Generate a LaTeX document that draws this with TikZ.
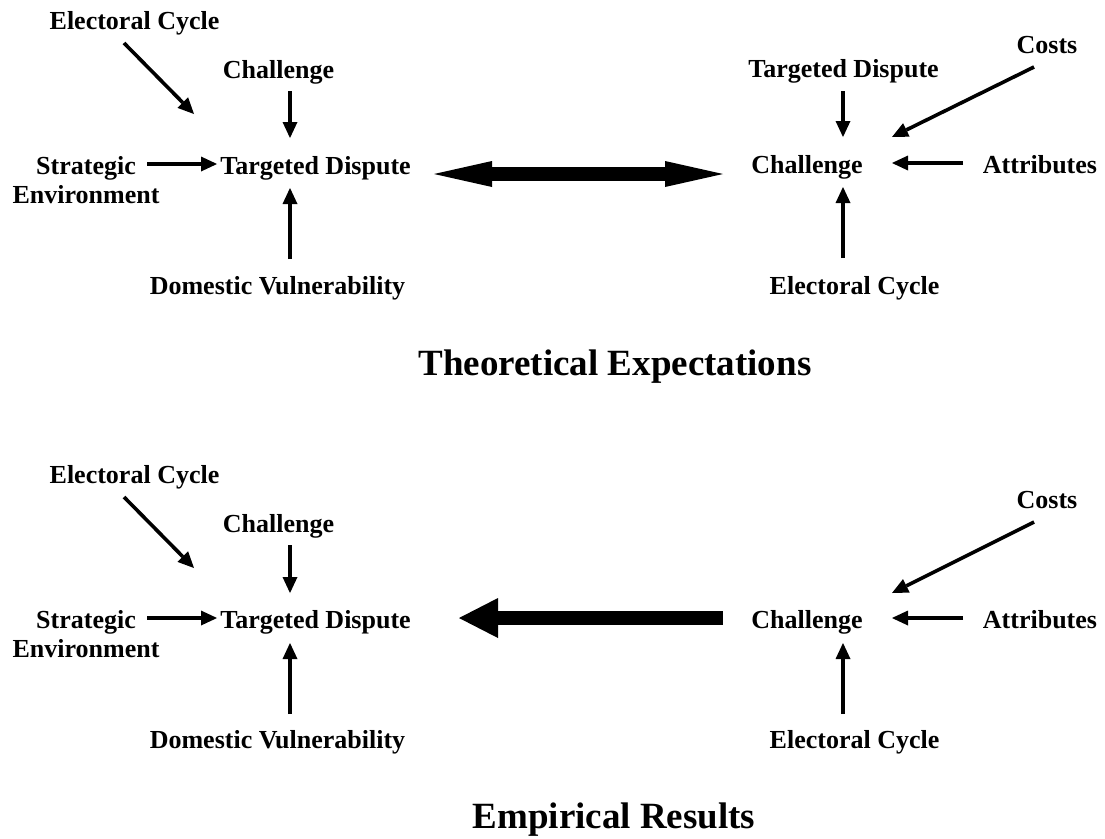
\documentclass[tikz,border=0pt]{standalone}
\usepackage{fontspec}
\setmainfont{Liberation Serif}
\usetikzlibrary{arrows.meta}
\tikzset{
  lbl/.style={anchor=base, inner sep=0pt, font=\fontsize{26}{29}\selectfont\bfseries, align=center},
  thin/.style={line width=3.6pt, -{Triangle[length=16pt,width=15pt,line width=0pt]}},
  bigdouble/.style={line width=13.4pt, {Triangle[length=58pt,width=26pt,line width=0pt]}-{Triangle[length=58pt,width=26pt,line width=0pt]}},
  bigleft/.style={line width=13.4pt, {Triangle[length=39pt,width=40pt,line width=0pt]}-},
  ttl/.style={anchor=base, inner sep=0pt, font=\fontsize{37}{40}\selectfont\bfseries}
}
\begin{document}
\begin{tikzpicture}[x=1pt,y=-1pt]
\useasboundingbox (0,0) rectangle (1105,838);
% ---------- top: theoretical expectations ----------
\node[lbl] (ec1) at (134.5,29) {Electoral Cycle};
\node[lbl] (ch1) at (278.5,78) {Challenge};
\node[lbl] (td1) at (315.5,174) {Targeted Dispute};
\node[lbl] (se1) at (86,203) {Strategic\\Environment};
\node[lbl] (dv1) at (277.5,294) {Domestic Vulnerability};
\node[lbl] (co1) at (1047,53) {Costs};
\node[lbl] (tdr1) at (843.5,77) {Targeted Dispute};
\node[lbl] (chr1) at (807,173) {Challenge};
\node[lbl] (at1) at (1040,173) {Attributes};
\node[lbl] (ecr1) at (854.5,294) {Electoral Cycle};
\node[ttl] (t1) at (615,375) {Theoretical Expectations};
\coordinate (ec1s) at (124,43);   \coordinate (ec1e) at (194,114);
\coordinate (ch1s) at (290,91);   \coordinate (ch1e) at (290,138);
\coordinate (se1s) at (147,164);  \coordinate (se1e) at (217,164);
\coordinate (dv1s) at (290,259);  \coordinate (dv1e) at (290,188);
\coordinate (tdr1s) at (843,91);  \coordinate (tdr1e) at (843,137);
\coordinate (co1s) at (1034,67);  \coordinate (co1e) at (892,137);
\coordinate (at1s) at (963,163);  \coordinate (at1e) at (892,163);
\coordinate (ecr1s) at (843,258); \coordinate (ecr1e) at (843,187);
\coordinate (m1l) at (434,174);   \coordinate (m1r) at (723,174);
\draw[thin] (ec1s) -- (ec1e);
\draw[thin] (ch1s) -- (ch1e);
\draw[thin] (se1s) -- (se1e);
\draw[thin] (dv1s) -- (dv1e);
\draw[thin] (tdr1s) -- (tdr1e);
\draw[thin] (co1s) -- (co1e);
\draw[thin] (at1s) -- (at1e);
\draw[thin] (ecr1s) -- (ecr1e);
\draw[bigdouble] (m1l) -- (m1r);
% ---------- bottom: empirical results ----------
\node[lbl] (ec2) at (134.5,483) {Electoral Cycle};
\node[lbl] (ch2) at (278.5,532) {Challenge};
\node[lbl] (td2) at (315.5,628) {Targeted Dispute};
\node[lbl] (se2) at (86,657) {Strategic\\Environment};
\node[lbl] (dv2) at (277.5,748) {Domestic Vulnerability};
\node[lbl] (co2) at (1047,508) {Costs};
\node[lbl] (chr2) at (807,628) {Challenge};
\node[lbl] (at2) at (1040,628) {Attributes};
\node[lbl] (ecr2) at (854.5,748) {Electoral Cycle};
\node[ttl] (t2) at (614,828) {Empirical Results};
\coordinate (ec2s) at (124,497);  \coordinate (ec2e) at (194,568);
\coordinate (ch2s) at (290,545);  \coordinate (ch2e) at (290,593);
\coordinate (se2s) at (147,618);  \coordinate (se2e) at (217,618);
\coordinate (dv2s) at (290,714);  \coordinate (dv2e) at (290,643);
\coordinate (co2s) at (1034,522); \coordinate (co2e) at (892,593);
\coordinate (at2s) at (963,618);  \coordinate (at2e) at (892,618);
\coordinate (ecr2s) at (843,714); \coordinate (ecr2e) at (843,643);
\coordinate (m2l) at (459,618);   \coordinate (m2r) at (723,618);
\draw[thin] (ec2s) -- (ec2e);
\draw[thin] (ch2s) -- (ch2e);
\draw[thin] (se2s) -- (se2e);
\draw[thin] (dv2s) -- (dv2e);
\draw[thin] (co2s) -- (co2e);
\draw[thin] (at2s) -- (at2e);
\draw[thin] (ecr2s) -- (ecr2e);
\draw[bigleft] (m2l) -- (m2r);
\end{tikzpicture}
\end{document}
